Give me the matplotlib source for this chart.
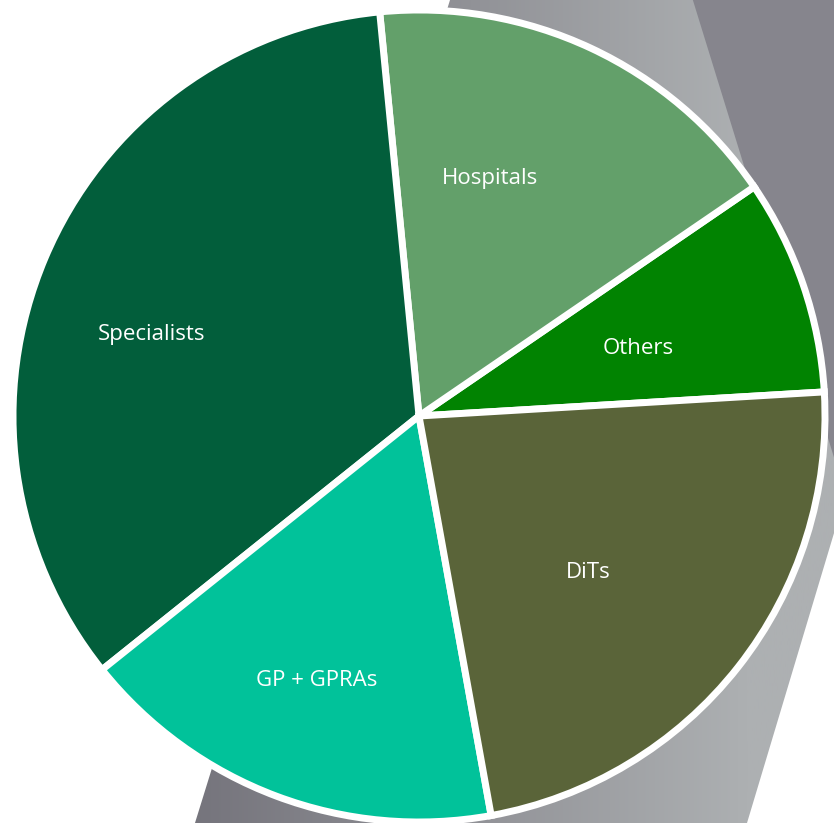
import numpy as np
import matplotlib.pyplot as plt
from matplotlib.patches import Polygon
from matplotlib.colors import LinearSegmentedColormap

# slice data (counter-clockwise, starting at the Others/DiTs boundary)
labels = ['Others', 'Hospitals', 'Specialists', 'GP + GPRAs', 'DiTs']
shares = [8.6, 17.0, 34.2, 17.1, 23.1]
colors = ['#018301', '#63a06a', '#025e3b', '#01c29a', '#5a6439']

# label placement: shift from wedge mid-angle (deg) and fraction of radius
label_shift = [-1.2, 8.5, 5.5, -0.7, -4.2]
label_frac = [0.566, 0.616, 0.69, 0.693, 0.564]

W, H = 834, 823
cx, cy, r = 419, H - 416, 406


def img(x, y):
    # image pixel coords -> data coords (y up)
    return (x, H - y)


def main():
    fig = plt.figure(figsize=(W / 100, H / 100), dpi=100)
    ax = fig.add_axes([0, 0, 1, 1])

    # grey band behind the pie, horizontal gradient
    band = Polygon([img(481, -100), img(1024, -100), img(717, 923), img(164, 923)],
                   closed=True, facecolor='none', edgecolor='none')
    ax.add_patch(band)
    cmap = LinearSegmentedColormap.from_list('g', ['#76757d', '#adb0b2'])
    xs = np.linspace(0, W, 400)
    grad = np.clip((xs - 200) / 550, 0, 1)[None, :]
    im = ax.imshow(grad, cmap=cmap, extent=(0, W, 0, H), aspect='auto',
                   vmin=0, vmax=1, zorder=0)
    im.set_clip_path(band)

    # darker shape top right
    dark = Polygon([img(662, -100), img(1000, -100), img(1000, 600), img(878, 600)],
                   closed=True, facecolor='#86858d', edgecolor='none', zorder=1)
    ax.add_patch(dark)

    wedges, _ = ax.pie(shares, colors=colors, startangle=3.4, counterclock=True,
                       center=(cx, cy), radius=r,
                       wedgeprops=dict(edgecolor='white', linewidth=5, zorder=2))
    for w in wedges:
        w.set_zorder(2)

    for w, lab, sh, fr in zip(wedges, labels, label_shift, label_frac):
        ang = np.deg2rad((w.theta1 + w.theta2) / 2 + sh)
        ax.annotate(lab, (cx + fr * r * np.cos(ang), cy + fr * r * np.sin(ang)),
                    xytext=(0, -2), textcoords='offset pixels',
                    ha='center', va='center', color='white', fontsize=16,
                    family=['Open Sans', 'DejaVu Sans'], zorder=3)

    ax.set_xlim(0, W)
    ax.set_ylim(0, H)
    ax.set_aspect('auto')
    ax.axis('off')
    fig.savefig('out.png', dpi=100, facecolor='white')


if __name__ == '__main__':
    main()
